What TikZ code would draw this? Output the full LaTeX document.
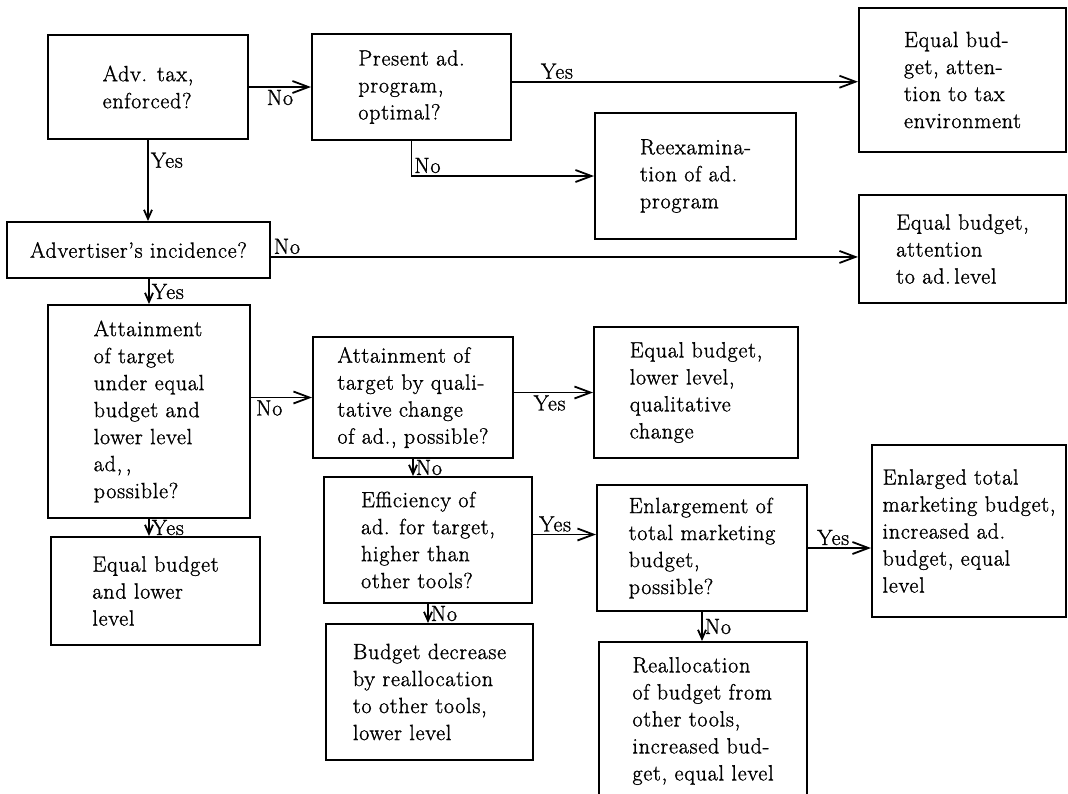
\documentclass[tikz,border=0pt]{standalone}
\usepackage{fontspec}
\setmainfont{Latin Modern Roman}[LetterSpace=3.5,FakeBold=1.2]
\usetikzlibrary{arrows.meta}

\begin{document}
\begin{tikzpicture}[x=1pt,y=-1pt,
  every node/.style={font=\fontsize{22}{27}\selectfont},
  box/.style={draw,line width=2pt,align=left,inner sep=0pt},
  lbl/.style={inner sep=2pt},
  hor/.style={line width=1.8pt,-{Straight Barb[length=16pt,width=12pt]}},
  ver/.style={line width=1.8pt,-{Straight Barb[length=9pt,width=8pt]}}]
  \useasboundingbox (0,0) rectangle (1068,793);

  % top row
  \node[box,minimum width=200pt,minimum height=104pt] (tax) at (148,87)
    {Adv. tax,\\enforced?};
  \node[box,minimum width=199pt,minimum height=106pt] (pres) at (411.5,87)
    {Present ad.\\program,\\optimal?};
  \node[box,minimum width=207pt,minimum height=144pt] (eqtax) at (962.5,80)
    {Equal bud-\\get, atten-\\tion to tax\\environment};
  \node[box,minimum width=201pt,minimum height=126pt] (reexam) at (695.5,176)
    {Reexamina-\\tion of ad.\\program};

  % incidence
  \node[box,minimum width=263pt,minimum height=56pt] (inc) at (138.5,250)
    {Advertiser's incidence?};
  \node[box,minimum width=207pt,minimum height=108pt] (eqlev) at (962.5,249)
    {Equal budget,\\attention\\to ad.\,level};

  % target
  \node[box,minimum width=202pt,minimum height=213pt] (att) at (149,411.5)
    {Attainment\\of target\\under equal\\budget and\\lower level\\ad,\,,\\possible?};
  \node[box,minimum width=200pt,minimum height=121pt] (qual) at (413,397.5)
    {Attainment of\\target by quali-\\tative change\\of ad., possible?};
  \node[box,minimum width=204pt,minimum height=131pt] (eqqual) at (696,392.5)
    {Equal budget,\\lower level,\\qualitative\\change};
  \node[box,minimum width=208pt,minimum height=126pt] (eff) at (428,540)
    {Efficiency of\\ad. for target,\\higher than\\other tools?};
  \node[box,minimum width=210pt,minimum height=126pt] (enl) at (702,548)
    {Enlargement of\\total marketing\\budget,\\possible?};
  \node[box,minimum width=194pt,minimum height=172pt] (enltot) at (969,531)
    {Enlarged total\\marketing budget,\\increased ad.\\budget, equal\\level};

  % bottom row
  \node[box,minimum width=209pt,minimum height=108pt] (eqlow) at (155.5,591)
    {Equal budget\\and lower\\level};
  \node[box,minimum width=207pt,minimum height=136pt] (budgdec) at (429.5,692)
    {Budget decrease\\by reallocation\\to other tools,\\lower level};
  \node[box,minimum width=208pt,minimum height=158pt] (realloc) at (703,721)
    {Reallocation\\of budget from\\other tools,\\increased bud-\\get, equal level};

  % connectors
  \draw[hor] (tax) -- (pres) node[lbl,below,pos=0.5] (n1) {No};
  \draw[hor] (pres.3) -- (pres.3 -| eqtax.west) node[lbl,above,pos=0.13] (y1) {Yes};
  \draw[hor] (pres.south) |- (reexam.west) node[lbl,above right,pos=0.5] (n2) {No};
  \draw[ver] (tax.south) -- (tax.south |- inc.north) node[lbl,right,pos=0.25] (y2) {Yes};
  \draw[hor] (inc.-3) -- (inc.-3 -| eqlev.west) node[lbl,above right,pos=0] (n3) {No};
  \draw[ver] (att.north |- inc.south) -- (att.north) node[lbl,right,pos=0.5] (y3) {Yes};
  \draw[hor] (att.east |- qual.west) -- (qual.west) node[lbl,below,pos=0.3] (n4) {No};
  \draw[hor] (qual.east |- eqqual.west) -- (eqqual.west) node[lbl,below,pos=0.45] (y4) {Yes};
  \draw[ver] (qual.south) -- (qual.south |- eff.north) node[lbl,right,pos=0.5] (n5) {No};
  \draw[ver] (att.south) -- (att.south |- eqlow.north) node[lbl,right,pos=0.5] (y5) {Yes};
  \draw[hor] (eff.3) -- (eff.3 -| enl.west) node[lbl,above,pos=0.35] (y6) {Yes};
  \draw[ver] (eff.south) -- (eff.south |- budgdec.north) node[lbl,right,pos=0.5] (n6) {No};
  \draw[hor] (enl.east) -- (enl.east -| enltot.west) node[lbl,above,pos=0.4] (y7) {Yes};
  \draw[ver] (enl.south) -- (enl.south |- realloc.north) node[lbl,right,pos=0.5] (n7) {No};
\end{tikzpicture}
\end{document}
